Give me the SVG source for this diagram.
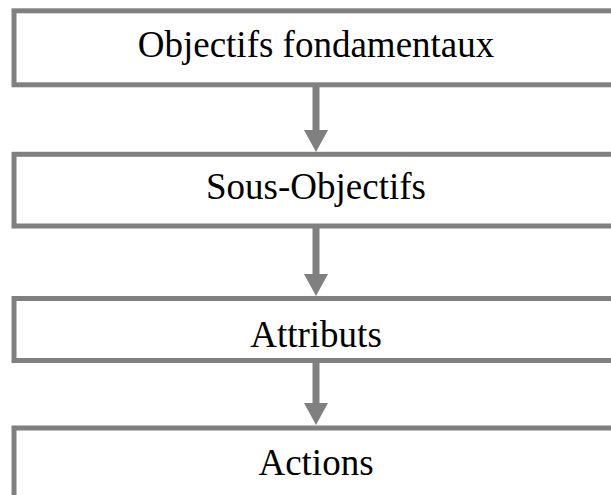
<svg xmlns="http://www.w3.org/2000/svg" width="611" height="495" viewBox="0 0 611 495">
  <style>
    .box { fill: #ffffff; stroke: #808080; stroke-width: 5; }
    .label { font-family: "Liberation Serif", "Times New Roman", serif; font-size: 37px; fill: #000000; text-anchor: middle; }
    .shaft { fill: #808080; }
    .head { fill: #808080; }
  </style>
  <rect width="611" height="495" fill="#ffffff"/>

  <g id="connectors">
    <g id="arrow-1">
      <rect class="shaft" x="312.5" y="86" width="7" height="45"/>
      <polygon class="head" points="304,130 328,130 316,152"/>
    </g>
    <g id="arrow-2">
      <rect class="shaft" x="312.5" y="228" width="7" height="47"/>
      <polygon class="head" points="304,274 328,274 316,296"/>
    </g>
    <g id="arrow-3">
      <rect class="shaft" x="312.5" y="362" width="7" height="42"/>
      <polygon class="head" points="304,403 328,403 316,425"/>
    </g>
  </g>

  <g id="node-objectifs">
    <rect class="box" x="14" y="10.8" width="620" height="74"/>
    <text class="label" x="316" y="56.5">Objectifs fondamentaux</text>
  </g>
  <g id="node-sous-objectifs">
    <rect class="box" x="14" y="154.3" width="620" height="71.7"/>
    <text class="label" x="316" y="199">Sous-Objectifs</text>
  </g>
  <g id="node-attributs">
    <rect class="box" x="14" y="298.5" width="620" height="62"/>
    <text class="label" x="316" y="346.5">Attributs</text>
  </g>
  <g id="node-actions">
    <rect class="box" x="14" y="428" width="620" height="90"/>
    <text class="label" x="316" y="475">Actions</text>
  </g>
</svg>
